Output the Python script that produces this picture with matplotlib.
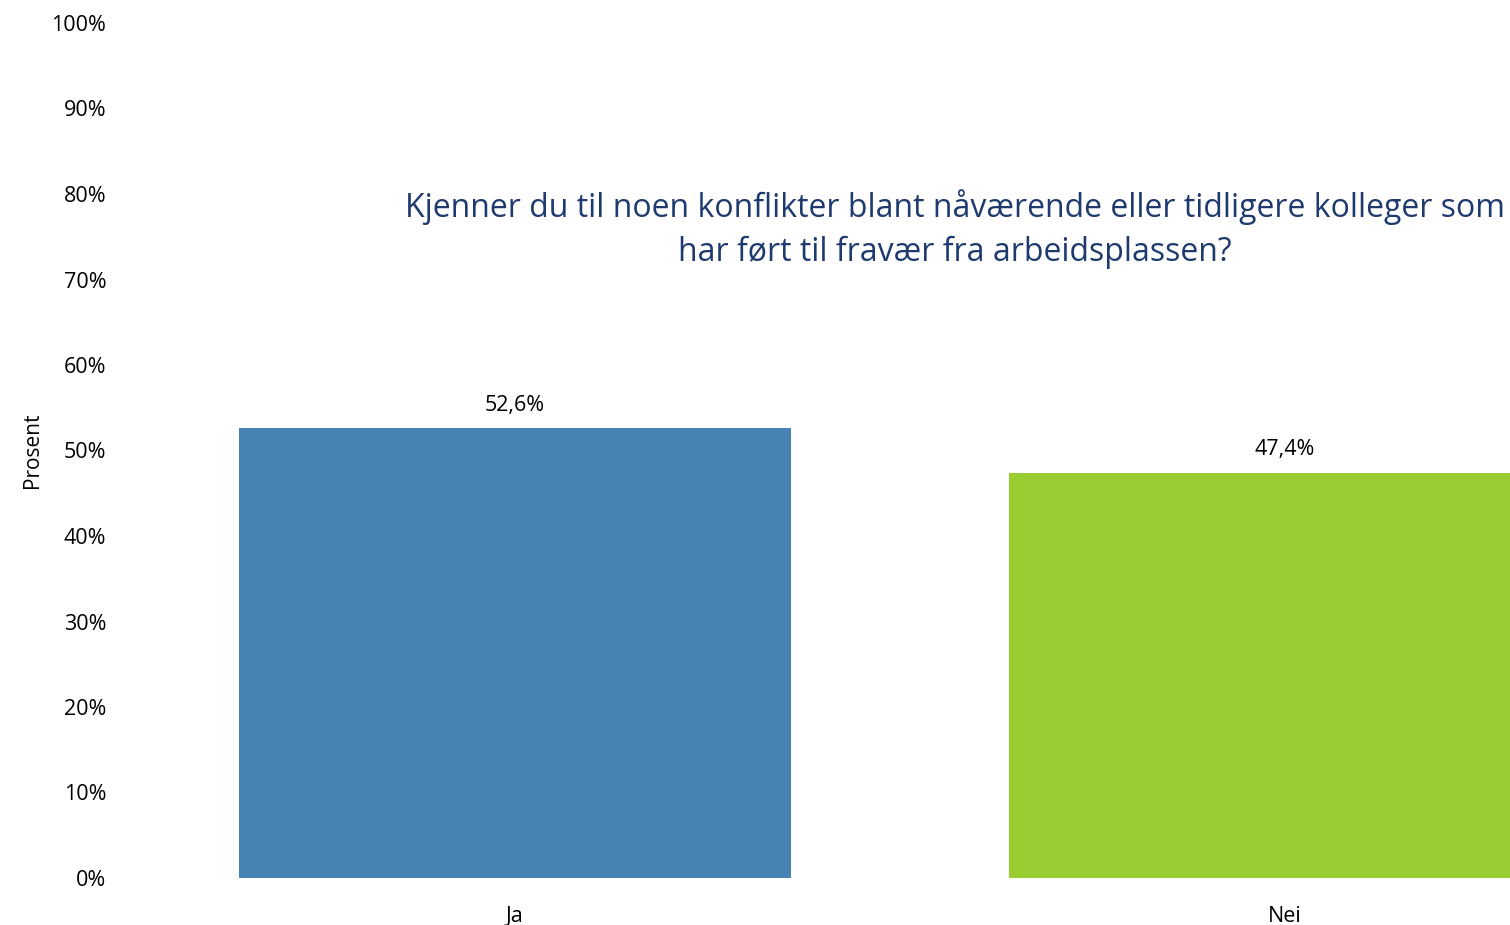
import matplotlib
matplotlib.use('Agg')
import matplotlib.pyplot as plt
from matplotlib.ticker import FuncFormatter

# survey answers
categories = ['Ja', 'Nei']
values = [52.6, 47.4]
bar_colors = ['#4682B4', '#9ACD32']
title = ('Kjenner du til noen konflikter blant nåværende eller tidligere kolleger som\n'
         'har ført til fravær fra arbeidsplassen?')

plt.rcParams['font.family'] = ['Open Sans', 'DejaVu Sans']

fig = plt.figure(figsize=(15.1, 9.25), dpi=100)
ax = fig.add_axes([130 / 1510, 47 / 925, 1380 / 1510, 855 / 925])

x = list(range(len(categories)))
bars = ax.bar(x, values, width=0.716, color=bar_colors)

for xi, v in zip(x, values):
    ax.text(xi, v + 2.7, f'{v:.1f}'.replace('.', ',') + '%', ha='center', va='center',
            fontsize=15.5, color='black')

ax.set_xlim(-0.5, 1.292)
ax.set_ylim(0, 100)
ax.set_yticks(range(0, 101, 10))
ax.yaxis.set_major_formatter(FuncFormatter(lambda v, p: f'{v:.0f}%'))
ax.set_xticks(x)
ax.set_xticklabels(categories)
ax.tick_params(axis='both', length=0, labelsize=15.5, colors='black')
ax.tick_params(axis='y', pad=17)
ax.tick_params(axis='x', pad=20)
for s in ax.spines.values():
    s.set_visible(False)

ax.set_ylabel('Prosent', fontsize=15, labelpad=6)

ax.text((955 - 130) / 1380, 0.759, title, transform=ax.transAxes,
        ha='center', va='center', fontsize=23, color='#1F3A6E', linespacing=1.45)

fig.savefig('out.png', dpi=100)
